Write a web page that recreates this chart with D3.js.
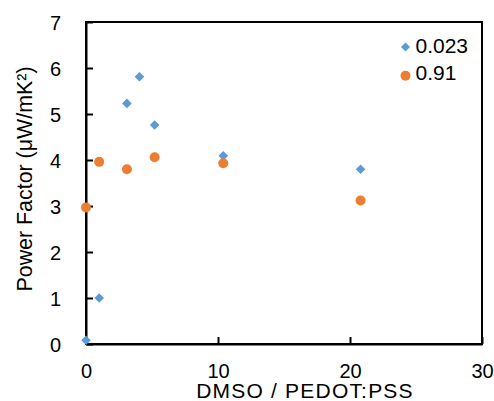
<!DOCTYPE html>
<html>
<head>
<meta charset="utf-8">
<script src="https://cdn.jsdelivr.net/npm/d3@7/dist/d3.min.js"></script>
<style>
  html, body { margin: 0; padding: 0; background: #fff; }
  svg { display: block; font-family: "Liberation Sans", Arial, sans-serif; }
</style>
</head>
<body>
<svg id="chart" width="494" height="401"></svg>
<script>
// DMSO / PEDOT:PSS ratio for each sample
const ratioBlue = [0, 1.0, 3.1, 4.05, 5.2, 10.4, 20.8];
const pfBlue    = [0.08, 1.0, 5.23, 5.81, 4.76, 4.09, 3.80];
const ratioOrange = [0, 1.0, 3.1, 5.2, 10.4, 20.8];
const pfOrange    = [2.97, 3.96, 3.80, 4.06, 3.93, 3.12];

const seriesNames = ["0.023", "0.91"];
const seriesColors = ["#5B9BD5", "#ED7D31"];
const xTicks = [0, 10, 20, 30];
const yTicks = [0, 1, 2, 3, 4, 5, 6, 7];

const svg = d3.select("#chart");
const x = d3.scaleLinear().domain([0, 30]).range([86, 482]);
const y = d3.scaleLinear().domain([0, 7]).range([344, 22]);

// frame
svg.append("rect")
  .attr("x", x(0)).attr("y", y(7))
  .attr("width", x(30) - x(0)).attr("height", y(0) - y(7))
  .attr("fill", "none").attr("stroke", "#000").attr("stroke-width", 2);

// axes with inward ticks
const xAxis = svg.append("g").attr("transform", `translate(0,${y(0)})`)
  .call(d3.axisBottom(x).tickValues(xTicks).tickSizeInner(-7).tickSizeOuter(0).tickPadding(0).tickFormat(d3.format("d")));
const yAxis = svg.append("g").attr("transform", `translate(${x(0)},0)`)
  .call(d3.axisLeft(y).tickValues(yTicks).tickSizeInner(-7).tickSizeOuter(0).tickPadding(0).tickFormat(d3.format("d")));

[xAxis, yAxis].forEach(g => {
  g.select(".domain").attr("stroke", "#000").attr("stroke-width", 2);
  g.selectAll(".tick line").attr("stroke", "#000").attr("stroke-width", 2);
  g.selectAll(".tick text").attr("fill", "#000").attr("font-size", 20)
    .attr("font-family", "Liberation Sans, Arial, sans-serif");
});
xAxis.selectAll(".tick text").attr("dy", null).attr("y", 34);
yAxis.selectAll(".tick text").attr("x", -25).attr("dy", "0.35em");

// axis titles
svg.append("text")
  .attr("x", 305).attr("y", 397.5)
  .attr("text-anchor", "middle").attr("font-size", 21).attr("letter-spacing", 1.2)
  .text("DMSO / PEDOT:PSS");

svg.append("text")
  .attr("transform", `translate(31.5,179) rotate(-90)`)
  .attr("text-anchor", "middle").attr("font-size", 21.4)
  .text("Power Factor (μW/mK²)");

// data points
const blueData = ratioBlue.map((r, i) => ({ r, v: pfBlue[i] }));
const orangeData = ratioOrange.map((r, i) => ({ r, v: pfOrange[i] }));

const diamond = d3.symbol().type(d3.symbolSquare).size(46);
svg.append("g").selectAll("path").data(blueData).join("path")
  .attr("d", diamond)
  .attr("transform", d => `translate(${x(d.r)},${y(d.v)}) rotate(45)`)
  .attr("fill", seriesColors[0]);

svg.append("g").selectAll("circle").data(orangeData).join("circle")
  .attr("cx", d => x(d.r)).attr("cy", d => y(d.v)).attr("r", 5)
  .attr("fill", seriesColors[1]);

// legend
const legend = svg.append("g");
const legendRows = [47, 75.7];
legend.append("path")
  .attr("d", d3.symbol().type(d3.symbolSquare).size(40))
  .attr("transform", `translate(405.5,${legendRows[0]}) rotate(45)`)
  .attr("fill", seriesColors[0]);
legend.append("circle")
  .attr("cx", 405.5).attr("cy", legendRows[1]).attr("r", 5)
  .attr("fill", seriesColors[1]);
seriesNames.forEach((name, i) => {
  legend.append("text")
    .attr("x", 415.5).attr("y", legendRows[i] + 5.5 + (i === 1 ? -1 : 0))
    .attr("font-size", 21)
    .text(name);
});
</script>
</body>
</html>
